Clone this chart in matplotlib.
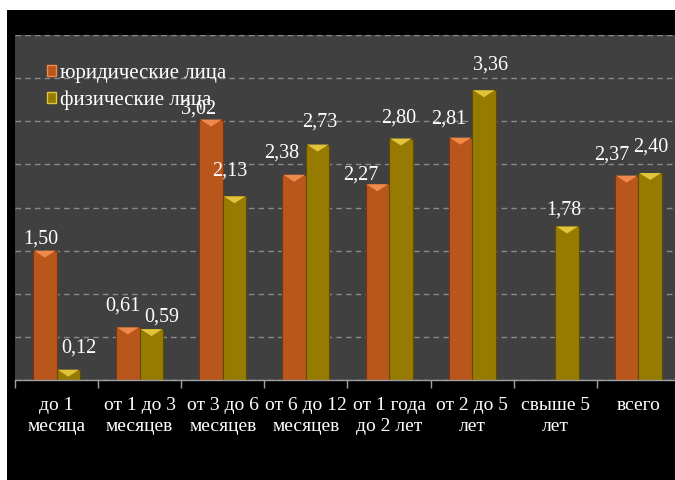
import matplotlib
matplotlib.use("Agg")
import matplotlib.pyplot as plt
from matplotlib.patches import Rectangle, Polygon, Patch
import numpy as np

categories = ["до 1\nмесяца", "от 1 до 3\nмесяцев", "от 3 до 6\nмесяцев", "от 6 до 12\nмесяцев",
              "от 1 года\nдо 2 лет", "от 2 до 5\nлет", "свыше 5\nлет", "всего"]
legal = [1.50, 0.61, 3.02, 2.38, 2.27, 2.81, np.nan, 2.37]
physical = [0.12, 0.59, 2.13, 2.73, 2.80, 3.36, 1.78, 2.40]
series_names = ["юридические лица", "физические лица"]

# label offsets in pixels (dx, dy) for each bar label
legal_off = [(-4, 12), (-5, 21), (-12, 10), (-12, 22), (-16, 9), (-12, 19), (0, 0), (-15, 21)]
phys_off = [(11, 22), (10, 12), (-5, 25), (2, 22), (-2, 20), (7, 25), (-3, 16), (1, 26)]

plt.rcParams['font.family'] = 'serif'
plt.rcParams['font.serif'] = ['Liberation Serif', 'Times New Roman', 'DejaVu Serif']

W, H = 675, 480
fig = plt.figure(figsize=(W / 100, H / 100), dpi=100, facecolor="white")
fig.patches.append(Rectangle((7 / W, 0), 1, 470 / H, transform=fig.transFigure,
                             facecolor="black", edgecolor="none", zorder=-10))

ax = fig.add_axes([15 / W, 100 / H, 665 / W, 345 / H])
ax.set_facecolor("#404040")
ax.set_xlim(-0.5, len(categories) - 0.5)
ax.set_ylim(0, 4)

ax.set_yticks(np.arange(0, 4.01, 0.5))
ax.tick_params(axis="y", left=False, labelleft=False)
ax.yaxis.grid(True, color="#8a8a8a", linestyle=(0, (4, 3)), linewidth=1)
ax.set_axisbelow(True)

for s in ["top", "right", "left"]:
    ax.spines[s].set_visible(False)
ax.spines["bottom"].set_color("#a0a0a0")
ax.spines["bottom"].set_linewidth(1)

x = np.arange(len(categories))
w = 0.283

ax.set_xticks(np.arange(len(categories) + 1) - 0.5)
ax.set_xticklabels([])
ax.tick_params(axis="x", which="major", direction="out", length=6, color="#a0a0a0", width=1)
ax.set_xticks(x, minor=True)
ax.set_xticklabels(categories, minor=True, color="white", fontsize=14, linespacing=1.35)
ax.tick_params(axis="x", which="minor", length=0, pad=12)

colors = ["#B9561B", "#967A02"]
bevel = ["#F08A4A", "#E2C43A"]
edges = ["#7a3510", "#5e4c00"]

px_to_data = 4 / 345.0
for k, (vals, offs) in enumerate([(legal, legal_off), (physical, phys_off)]):
    xs = x - w / 2 if k == 0 else x + w / 2
    bars = ax.bar(xs, np.nan_to_num(vals), width=w, color=colors[k], edgecolor=edges[k],
                  linewidth=0.8, zorder=2)
    for b, v, (dx, dy) in zip(bars, vals, offs):
        if np.isnan(v) or v <= 0:
            continue
        x0 = b.get_x()
        x1 = x0 + b.get_width()
        top = b.get_height()
        d = min(7 * px_to_data, top)
        ax.add_patch(Polygon([(x0 + 0.01, top), (x1 - 0.01, top), ((x0 + x1) / 2, top - d)],
                             closed=True, facecolor=bevel[k], edgecolor="none", zorder=3))
        ax.annotate(f"{v:.2f}".replace(".", ","), (b.get_x() + b.get_width() / 2, top),
                    xytext=(dx, dy), textcoords="offset pixels", ha="center", va="center",
                    color="white", fontsize=14.5, zorder=5)

handles = [Patch(facecolor=colors[0], edgecolor=bevel[0]), Patch(facecolor=colors[1], edgecolor=bevel[1])]
leg = ax.legend(handles, series_names, loc="upper left", bbox_to_anchor=(0.035, 0.94),
                frameon=False, fontsize=15, handlelength=0.45, handleheight=0.45,
                handletextpad=0.2, labelspacing=0.35, borderaxespad=0)
for t in leg.get_texts():
    t.set_color("white")
leg.set_zorder(6)

fig.savefig("out.png", dpi=100, facecolor=fig.get_facecolor())
